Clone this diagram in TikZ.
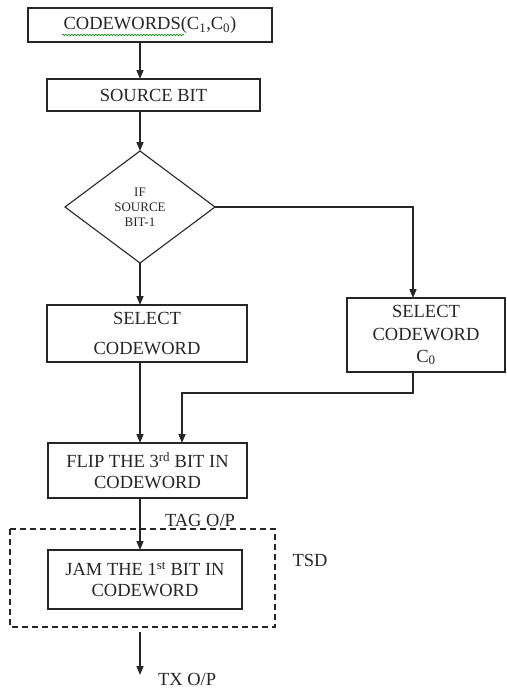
\documentclass[tikz,border=0pt]{standalone}
\usepackage{fontspec}
\setmainfont{Liberation Serif}
\usetikzlibrary{arrows.meta, positioning, shapes.geometric, calc, decorations.pathmorphing}

\begin{document}
\begin{tikzpicture}[x=1pt, y=1pt, line width=1.5pt, draw=black!85, text=black!85,
  every node/.style={font=\fontsize{18.5}{21}\selectfont, outer sep=0pt},
  >={Triangle[length=9pt,width=7pt]},
  box/.style={draw, align=center, inner sep=2pt},
  txt/.style={inner sep=0pt}]

\useasboundingbox (0,0) rectangle (506,-688);
\coordinate (spine) at (140,0);

% Nodes
\node (code) [box, minimum width=244pt, minimum height=34pt] at (150,-25) {CODEWORDS(C\textsubscript{1},C\textsubscript{0})};
\node (src) [box, below=37pt of code, xshift=3.5pt, minimum width=213pt, minimum height=32pt] {SOURCE BIT};
\node (dec) [draw, diamond, aspect=1.34, inner sep=1pt, line width=1.1pt, below=40pt of src, xshift=-13.5pt,
  minimum width=150pt, minimum height=112pt, align=center, font=\fontsize{13}{15}\selectfont] {IF\\SOURCE\\BIT-1};
\node (sel) [box, below=42pt of dec, xshift=7pt, minimum width=200pt, minimum height=57pt] {SELECT\\[9pt]CODEWORD};
\node (selc) [box, right=100pt of sel, yshift=-1.5pt, minimum width=158pt, minimum height=74pt] {SELECT\\[2pt]CODEWORD\\[1pt]C\textsubscript{0}};
\node (flip) [box, below=81pt of sel, xshift=0.5pt, minimum width=199pt, minimum height=55pt] {FLIP THE 3\textsuperscript{rd} BIT IN\\CODEWORD};
\node (jam) [box, below=52pt of flip, xshift=-2.5pt, minimum width=194pt, minimum height=59pt] {JAM THE 1\textsuperscript{st} BIT IN\\CODEWORD};

% TSD frame
\coordinate (fa) at ($(jam.north west)+(-38,21)$);
\coordinate (fb) at ($(jam.south east)+(33,-18)$);
\draw[dashed, dash pattern=on 6pt off 4pt, line width=1.2pt] (fa) rectangle (fb);
\node (tag) [txt] at (200,-520) {TAG O/P};
\node (tsd) [txt] at (310,-560) {TSD};

% spell-check squiggle
\draw[green!55!black, line width=0.6pt, decorate, decoration={snake, amplitude=0.8pt, segment length=3pt}]
  ($(code.south west)+(34,7)$) -- ++(122,0);

% Arrows
\draw[->] (code.south -| spine) -- (src.north -| spine);
\draw[->] (src.south -| spine) -- (dec.north);
\draw[->] (dec.south) -- (sel.north -| spine);
\draw[->] (dec.east) -| ([xshift=-13pt]selc.north);
\draw[->] (sel.south -| spine) -- (flip.north -| spine);
\draw[->] ([xshift=-13pt]selc.south) -- ++(0,-21) -| ([xshift=34.5pt]flip.north);
\draw[->] (flip.south -| spine) -- (jam.north -| spine);
\coordinate (txi) at ($(fb -| spine)+(0,-5)$);
\coordinate (txo) at ($(txi)+(0,-43)$);
\draw[->] (txi) -- (txo);
\node (txop) [txt, anchor=base west] at ($(txo)+(18,-10)$) {TX O/P};

\end{tikzpicture}
\end{document}
